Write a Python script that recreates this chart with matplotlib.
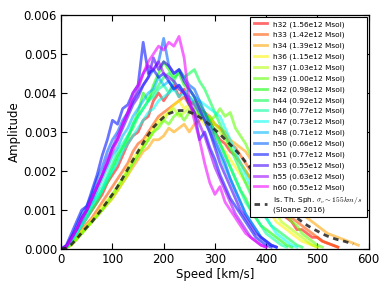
import numpy as np
import matplotlib
matplotlib.use("Agg")
import matplotlib.pyplot as plt
from matplotlib.ticker import FormatStrFormatter, MultipleLocator

plt.rcParams["mathtext.fontset"] = "cm"

# speed bins step (km/s)
step = 10

labels = ["h32 (1.56e12 Msol)", "h33 (1.42e12 Msol)", "h34 (1.39e12 Msol)",
          "h36 (1.15e12 Msol)", "h37 (1.03e12 Msol)", "h39 (1.00e12 Msol)",
          "h42 (0.98e12 Msol)", "h44 (0.92e12 Msol)", "h46 (0.77e12 Msol)",
          "h47 (0.73e12 Msol)", "h48 (0.71e12 Msol)", "h50 (0.66e12 Msol)",
          "h51 (0.77e12 Msol)", "h53 (0.55e12 Msol)", "h55 (0.63e12 Msol)",
          "h60 (0.55e12 Msol)"]

# amplitudes in units of 1e-4, sampled every 10 km/s starting at 0
h32 = [0,0.5,2,4,6,8,10,12,14,17,19,21,24,27,29,30,33,34,38,40,38,40,42,39,41,38,37,35,33,33,30,28,27,25,24,22,20,18,16,15,13,12,10,9,8,7,5,5,4,3,3,2,1.5,1,0.5]
h33 = [0,0.4,1.5,3,5,6.5,8,10,12,14,16,18,20,22,25,27,28,30,32,34,35,36,37,38,39,37,38,36,35,34,32,31,29,27,26,24,22,20,18,17,15,13,12,10,9,8,7,6,5,4,3,2,1.5,1,0.5]
h34 = [0,0.3,1,2.5,4,5.5,7,8.5,10,11.5,13,15,17,19,21,23,25,26,28,28,29,31,30,31,32,30,32,33,34,33,32,31,30,28,27,26,25,23,21,20,18,17,15,14,12,11,10,9,8,7,6,5,4,3.5,3,2.5,2,1.5,1]
h36 = [0,0.4,1.5,3,4.5,6,7.5,9,11,12.5,14,16,18,21,23,25,27,29,31,33,34,35,37,38,36,37,35,34,32,31,29,27,25,23,21,19,17,15,13,12,10,9,7,6,5,4,3,2,1.5,1,0.5]
h37 = [0,0.3,1.2,2.5,4,5.5,7,8.5,10,11.5,13,15,17,19,22,24,26,28,30,32,33,35,36,34,35,36,34,35,33,34,32,30,28,26,24,22,20,18,16,14,12,10,9,7,6,5,4,3,2,1,0.5]
h39 = [0,0.3,1.2,2.5,4,5.5,7,8.5,10,12,14,16,18,20,22,24,26,28,30,31,33,32,34,35,33,35,36,34,35,33,34,36,34,35,31,29,27,24,22,19,17,15,13,11,9,7,6,4,3,2,1,0.5]
h42 = [0,0.5,2,4,7,9,11,13,15,18,21,24,26,28,32,35,40,38,42,45,48,46,44,45,42,41,39,37,35,33,30,27,24,21,18,15,13,10,8,6,5,4,3,2,1,0.5]
h44 = [0,0.5,2,4,6,8,10,12,15,17,20,23,26,29,31,34,36,38,40,42,44,45,43,46,44,45,46,43,41,38,35,32,29,26,23,20,17,14,12,10,8,6,5,4,3,2,1,0.5]
h46 = [0,0.5,2,4,7,9,12,14,16,19,22,25,27,29,32,34,36,38,39,41,42,40,43,41,40,39,38,36,34,32,30,27,24,21,18,15,12,10,8,6,4,3,2,1,0.5]
h47 = [0,0.5,2,4,6,8,11,13,15,18,20,22,25,27,29,31,33,35,36,38,39,40,41,39,40,41,39,38,37,36,35,34,31,28,25,22,19,16,13,10,8,6,4,3,2,1,0.5]
h48 = [0,0.6,2.5,5,7,10,12,15,18,21,24,26,29,31,34,36,38,40,41,44,42,43,41,42,40,39,37,35,33,30,27,24,21,18,15,12,9,7,5,3,2,1,0.5]
h50 = [0,0.8,3,6,9,11,14,18,21,25,28,30,33,35,38,40,42,44,46,48,54,47,45,46,44,42,41,38,35,32,28,25,22,18,15,12,9,7,5,3,2,1,0.5]
h51 = [0,1,4,7,10,11,15,19,24,28,33,32,36,37,40,42,53,45,46,44,45,43,41,42,40,37,35,28,30,26,23,19,16,13,11,9,7,5,3,2,1,0.5]
h53 = [0,0.7,3,5,8,10,13,16,19,22,26,28,31,34,37,39,42,44,49,46,48,47,45,46,43,41,39,36,33,30,26,22,19,16,13,10,8,6,4,3,2,1,0.5]
h55 = [0,0.7,3,5,8,10,13,16,19,23,26,29,32,35,38,41,45,47,46,48,45,44,43,41,40,38,35,32,29,25,21,18,15,12,9,7,5,3,2,1,0.5]
h60 = [0,0.6,2.5,5,7.5,10,13,16,19,22,25,28,32,35,40,42,45,48,50,52,51,53,52,54.5,49,38,33,28,22,17,14,16,12,10,8,6,4,3,2,1,0.5]

series = [h32, h33, h34, h36, h37, h39, h42, h44, h46, h47, h48, h50, h51, h53, h55, h60]

# isothermal sphere reference (units of 1e-4)
iso = [0,0.3,1.2,2.6,4.2,5.6,7.0,8.7,10.4,12.2,14.0,16.0,18.2,20.5,22.8,25.0,27.2,29.3,31.2,32.6,33.8,34.7,35.2,35.5,35.5,35.1,34.6,33.8,32.9,31.8,30.6,29.4,28.1,26.8,25.4,24.0,22.3,20.7,19.0,17.3,15.7,14.2,12.7,11.3,10.0,9.0,8.0,7.0,6.1,5.3,4.6,3.9,3.3,2.8,2.4,2.1,1.7,1.3]
iso_label = "Is. Th. Sph. $\\sigma_v \\sim 155 km/s$\n(Sloane 2016)"

fig = plt.figure(figsize=(3.9, 2.93), dpi=100, facecolor="white")
ax = fig.add_axes([0.157, 0.15, 0.788, 0.799])

colors = plt.cm.hsv(np.linspace(0, 0.833, len(series)))
for s, lab, c in zip(series, labels, colors):
    v = np.arange(len(s)) * step
    ax.plot(v, np.array(s) * 1e-4, color=c, alpha=0.58, lw=2.0, label=lab)

vi = np.arange(len(iso)) * step
ax.plot(vi, np.array(iso) * 1e-4, color="#222222", alpha=0.85, lw=2.0,
        ls=(0, (2.0, 1.7)), label=iso_label)

ax.set_xlim(0, 600)
ax.set_ylim(0, 0.006)
ax.xaxis.set_major_locator(MultipleLocator(100))
ax.yaxis.set_major_locator(MultipleLocator(0.001))
ax.yaxis.set_major_formatter(FormatStrFormatter("%.3f"))
ax.tick_params(direction="in", top=True, right=True, length=4, width=0.8,
               labelsize=8.5, pad=3)
for sp in ax.spines.values():
    sp.set_linewidth(0.9)
ax.set_xlabel("Speed [km/s]", fontsize=8.5, labelpad=1)
ax.set_ylabel("Amplitude", fontsize=8.5, labelpad=2)

leg = ax.legend(loc="upper right", fontsize=5.35, frameon=True, fancybox=False,
                edgecolor="black", framealpha=1.0, borderaxespad=0.25,
                handlelength=1.8, handletextpad=0.85, labelspacing=0.56,
                borderpad=0.55)
leg.get_frame().set_linewidth(0.8)

fig.savefig("out.png", dpi=100, facecolor="white")
